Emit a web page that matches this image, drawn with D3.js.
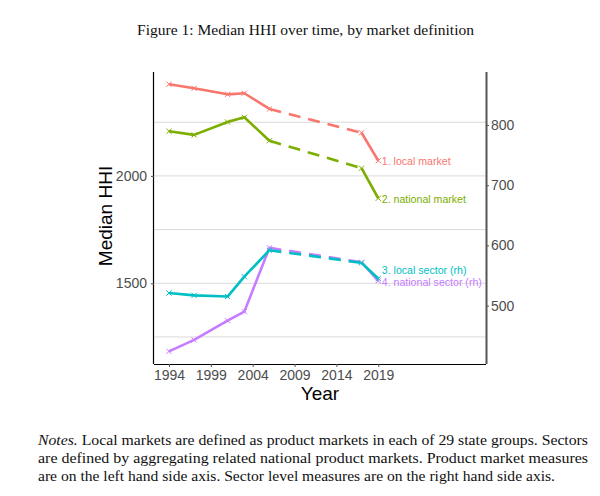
<!DOCTYPE html>
<html><head><meta charset="utf-8">
<script src="https://cdn.jsdelivr.net/npm/d3@7"></script>
<style>body{margin:0;background:#fff;} svg{display:block;}</style>
</head><body>
<svg id="chart" width="600" height="496"></svg>
<script>
const years = [1994, 1997, 2001, 2003, 2006, 2017, 2019];
const localMarket = [2427, 2408, 2380, 2385, 2312, 2201, 2071];
const nationalMarket = [2208, 2191, 2251, 2273, 2164, 2036, 1896];
const localSector = [521, 517, 515, 548, 592, 571, 545];
const nationalSector = [424, 443, 475, 490, 596, 572, 541];
const seriesNames = ["1. local market", "2. national market", "3. local sector (rh)", "4. national sector (rh)"];
const seriesColors = ["#F8766D", "#7CAE00", "#00BFC4", "#C77CFF"];
const xTicks = [1994, 1999, 2004, 2009, 2014, 2019];
const leftTicks = [1500, 2000];
const leftGrid = [1250, 1500, 1750, 2000, 2250];
const rightTicks = [500, 600, 700, 800];
const titleText = "Figure 1: Median HHI over time, by market definition";
const notesLines = [
  ["Notes.", " Local markets are defined as product markets in each of 29 state groups. Sectors"],
  ["", "are defined by aggregating related national product markets. Product market measures"],
  ["", "are on the left hand side axis. Sector level measures are on the right hand side axis."]
];

const svg = d3.select("#chart");
const L = 154, R = 486, T = 72, B = 364;
const x = d3.scaleLinear().domain([1992.21, 2031.87]).range([L, R]);
const yL = d3.scaleLinear().domain([1124, 2484]).range([B, T]);
const yR = d3.scaleLinear().domain([403, 888]).range([B, T]);

// title
svg.append("text").attr("x", 305.5).attr("y", 35).attr("text-anchor", "middle")
  .attr("font-family", "Liberation Serif, serif").attr("font-size", 15).attr("fill", "#111")
  .attr("textLength", 337).attr("lengthAdjust", "spacingAndGlyphs").text(titleText);

// grid
svg.append("g").selectAll("line").data(leftGrid).join("line")
  .attr("x1", L).attr("x2", R).attr("y1", d => yL(d)).attr("y2", d => yL(d))
  .attr("stroke", "#DADADA").attr("stroke-width", 1);

// series
const series = [
  {vals: localMarket, y: yL, idx: 0},
  {vals: nationalMarket, y: yL, idx: 1},
  {vals: nationalSector, y: yR, idx: 3},
  {vals: localSector, y: yR, idx: 2}
];
const lineG = svg.append("g");
series.forEach(s => {
  const pts = years.map((yr, i) => [x(yr), s.y(s.vals[i])]);
  const col = seriesColors[s.idx];
  const line = d3.line();
  lineG.append("path").attr("d", line(pts.slice(0, 5))).attr("fill", "none")
    .attr("stroke", col).attr("stroke-width", 2.6).attr("stroke-linejoin", "round");
  lineG.append("path").attr("d", line(pts.slice(4, 6))).attr("fill", "none")
    .attr("stroke", col).attr("stroke-width", 2.6).attr("stroke-dasharray", "12,8");
  lineG.append("path").attr("d", line(pts.slice(5, 7))).attr("fill", "none")
    .attr("stroke", col).attr("stroke-width", 2.6);
  pts.forEach(p => {
    lineG.append("path").attr("d", `M${p[0]-2.6},${p[1]-2.6}L${p[0]+2.6},${p[1]+2.6}M${p[0]-2.6},${p[1]+2.6}L${p[0]+2.6},${p[1]-2.6}`)
      .attr("stroke", col).attr("stroke-width", 1);
  });
});

// labels
const labelY = [161.7, 199.3, 270.7, 282.3];
seriesNames.forEach((n, i) => {
  svg.append("text").attr("x", x(2019) + 3.5).attr("y", labelY[i]).attr("dy", "0.35em")
    .attr("font-family", "Liberation Sans, Arial, sans-serif").attr("font-size", 10.6)
    .attr("fill", seriesColors[i]).text(n);
});

// axes
const axFont = "Liberation Sans, Arial, sans-serif";
const gx = svg.append("g").attr("transform", `translate(0,${B})`)
  .call(d3.axisBottom(x).tickValues(xTicks).tickFormat(d3.format("d")).tickSize(3).tickPadding(3));
gx.select(".domain").attr("d", `M${L},0.5H${R}`).attr("stroke", "#000").attr("stroke-width", 1.2);
const gl = svg.append("g").attr("transform", `translate(${L},0)`)
  .call(d3.axisLeft(yL).tickValues(leftTicks).tickFormat(d3.format("d")).tickSize(3).tickPadding(4));
gl.select(".domain").attr("d", `M-0.5,${T}V${B}`).attr("stroke", "#000").attr("stroke-width", 1.2);
const gr = svg.append("g").attr("transform", `translate(${R},0)`)
  .call(d3.axisRight(yR).tickValues(rightTicks).tickFormat(d3.format("d")).tickSize(3).tickPadding(2));
gr.select(".domain").attr("d", `M0.5,${T}V${B}`).attr("stroke", "#555").attr("stroke-width", 2);
[gx, gl, gr].forEach(g => {
  g.selectAll(".tick line").attr("stroke", "#555");
  g.selectAll(".tick text").attr("font-family", axFont).attr("font-size", 14).attr("fill", "#4D4D4D");
});

// axis titles
svg.append("text").attr("transform", "translate(112,216) rotate(-90)").attr("text-anchor", "middle")
  .attr("font-family", axFont).attr("font-size", 19).attr("fill", "#000").text("Median HHI");
svg.append("text").attr("x", 320).attr("y", 400).attr("text-anchor", "middle")
  .attr("font-family", axFont).attr("font-size", 19).attr("fill", "#000").text("Year");

// notes
const noteBase = [445, 463, 481];
notesLines.forEach((ln, i) => {
  const t = svg.append("text").attr("x", 38).attr("y", noteBase[i])
    .attr("font-family", "Liberation Serif, serif").attr("font-size", 14.5).attr("fill", "#111");
  if (i < 2) t.attr("textLength", 550).attr("lengthAdjust", "spacingAndGlyphs");
  else t.attr("textLength", 517).attr("lengthAdjust", "spacingAndGlyphs");
  if (ln[0]) t.append("tspan").attr("font-style", "italic").text(ln[0]);
  t.append("tspan").text(ln[1]);
});
</script>
</body></html>
